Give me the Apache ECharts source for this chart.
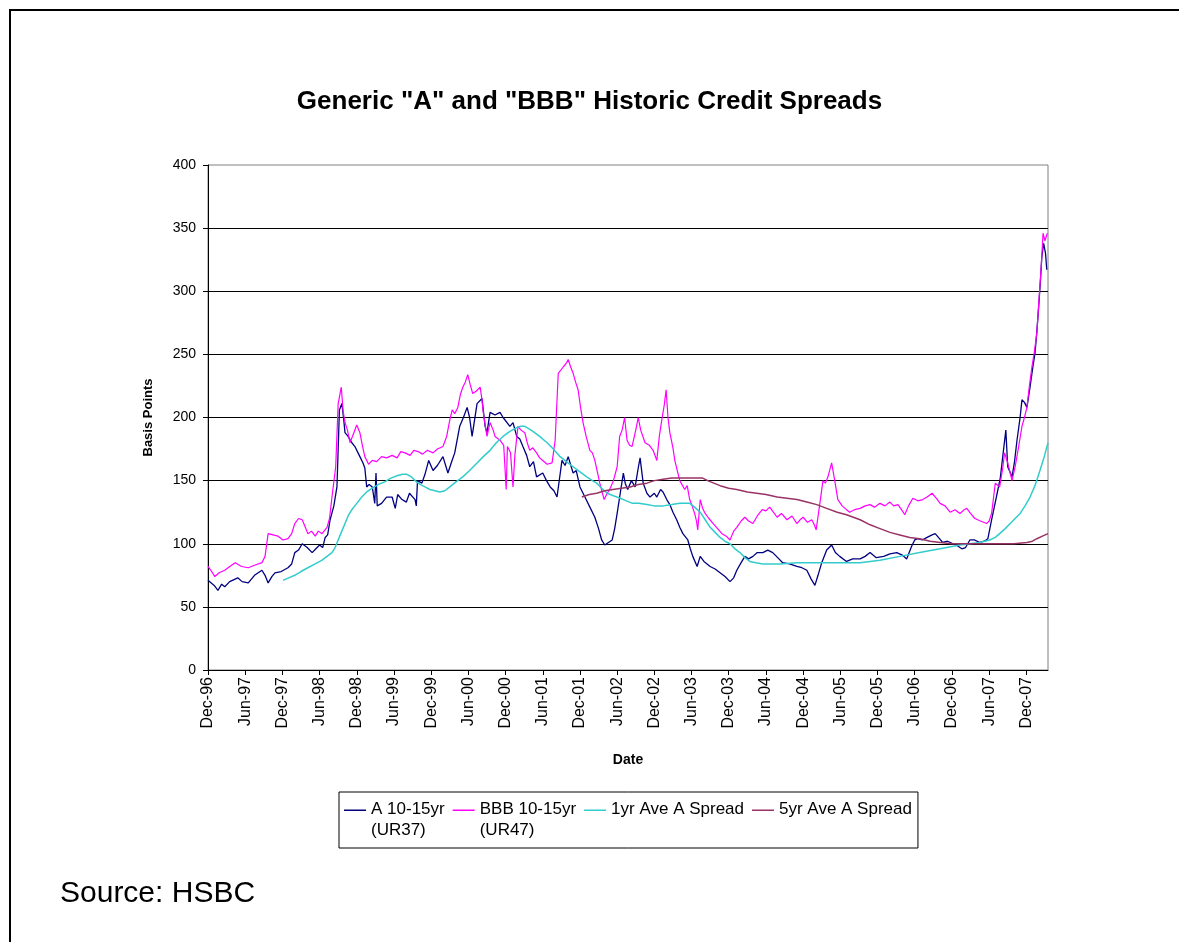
<!DOCTYPE html>
<html>
<head>
<meta charset="utf-8">
<script src="https://cdn.jsdelivr.net/npm/echarts@6/dist/echarts.min.js"></script>
<style>
  html, body { margin: 0; padding: 0; background: #fff; }
  #main { width: 1179px; height: 942px; }
</style>
</head>
<body>
<div id="main"></div>
<script>
// x values are months since Dec-96
const tickLabels = ['Dec-96', 'Jun-97', 'Dec-97', 'Jun-98', 'Dec-98', 'Jun-99', 'Dec-99', 'Jun-00',
  'Dec-00', 'Jun-01', 'Dec-01', 'Jun-02', 'Dec-02', 'Jun-03', 'Dec-03', 'Jun-04', 'Dec-04',
  'Jun-05', 'Dec-05', 'Jun-06', 'Dec-06', 'Jun-07', 'Dec-07'];

const seriesNames = ['A 10-15yr\n(UR37)', 'BBB 10-15yr\n(UR47)', '1yr Ave A Spread', '5yr Ave A Spread'];

const aMonths = [0, 1, 1.6, 2.2, 2.7, 3.5, 4.8, 5.5, 6.5, 7.5, 8.7, 9.2, 9.7, 10.3, 10.8, 11.8, 12.9, 13.5, 14, 14.6,
  15.2, 16, 16.8, 17.4, 18, 18.5, 18.9, 19.3, 19.7, 20.3, 20.8, 21.2, 21.6, 21.9, 22.1, 22.6, 23.2, 23.7, 24.2, 24.6,
  25, 25.3, 25.6, 26, 26.5, 26.9, 27.1, 27.3, 28, 28.8, 29.7, 30.2, 30.6, 31.3, 32, 32.5, 33.4, 33.6, 33.8, 34.5,
  35, 35.6, 36.3, 37, 37.9, 38.7, 39.3, 39.8, 40.6, 41.2, 41.8, 42.2, 42.6, 43.4, 44.2, 44.7, 45, 45.5, 46.3, 47.1,
  47.6, 48.7, 49.2, 49.8, 50.3, 50.8, 51.4, 51.9, 52.5, 53, 54, 54.6, 55.2, 55.8, 56.3, 57.1, 57.6, 58.1, 58.9, 59.4,
  60, 60.8, 61.6, 62.4, 63, 63.5, 64, 64.6, 65.2, 65.6, 66, 66.5, 67, 67.3, 67.7, 68.3, 68.9, 69.4, 69.7, 70.2,
  70.8, 71.3, 72, 72.4, 73, 73.4, 74, 74.5, 75, 75.6, 76.1, 76.6, 77.4, 77.8, 78.2, 78.9, 79.4, 80, 81, 81.8,
  82.6, 83.4, 84.2, 84.8, 85.3, 86, 86.6, 87.2, 87.9, 88.6, 89.5, 90.3, 91.1, 91.9, 92.7, 93.8, 95, 95.8, 96.6, 97.3,
  97.9, 98.4, 99, 99.8, 100.6, 101.2, 101.9, 103, 104, 105.2, 106, 106.8, 107.8, 109, 110, 111.1, 112, 112.7, 113.5, 114,
  114.5, 115.2, 116, 116.8, 117.3, 118, 118.5, 119.3, 120.2, 121, 121.6, 122.2, 122.9, 123.6, 124.5, 125.2, 125.8, 126.4, 127.3, 127.8,
  128.2, 128.7, 129, 129.7, 130.1, 130.5, 131, 131.3, 131.7, 132.1, 132.6, 133, 133.4, 133.7, 134, 134.3, 134.5, 134.8, 135.1, 135.3];
const aSpread = [71, 67, 63, 68, 66, 70, 73, 70, 69, 75, 79, 75, 69, 74, 77, 78, 81, 84, 93, 95,
  100, 97, 93, 96, 99, 97, 105, 107, 119, 130, 145, 206, 211, 198, 188, 185, 180, 177, 172, 168,
  164, 160, 145, 147, 145, 132, 156, 130, 132, 137, 137, 128, 139, 135, 133, 140, 135, 130, 150, 148,
  155, 166, 158, 162, 169, 156, 165, 172, 193, 200, 208, 200, 185, 211, 215, 193, 188, 204, 202, 204,
  200, 193, 196, 185, 183, 177, 170, 161, 165, 153, 156, 150, 145, 142, 137, 166, 162, 169, 156, 158,
  145, 137, 129, 121, 112, 103, 99, 101, 103, 112, 124, 140, 156, 148, 143, 150, 145, 160, 168, 148,
  140, 137, 140, 137, 143, 141, 135, 131, 125, 119, 113, 108, 103, 96, 90, 82, 90, 86, 82, 80,
  77, 74, 70, 73, 79, 85, 90, 88, 90, 93, 93, 95, 93, 89, 85, 84, 82, 81, 79, 72,
  67, 75, 85, 95, 99, 93, 90, 86, 88, 88, 90, 93, 89, 90, 92, 93, 91, 88, 98, 103,
  104, 103, 105, 107, 108, 104, 101, 102, 100, 98, 96, 97, 103, 103, 101, 102, 104, 119, 140, 152,
  169, 190, 161, 153, 165, 182, 200, 214, 212, 208, 224, 238, 251, 268, 288, 310, 327, 338, 330, 317];

const bbbMonths = [0, 0.6, 1.1, 1.8, 2.7, 3.5, 4.4, 5.4, 6.5, 7.5, 8.7, 9.2, 9.7, 10.5, 11.3, 12.1, 12.9, 13.5, 14, 14.6,
  15.2, 15.7, 16.1, 16.7, 17.3, 17.8, 18.4, 19.2, 19.6, 20, 20.6, 21, 21.5, 21.8, 22.1, 22.5, 22.9, 23.3, 24, 24.5,
  24.9, 25.3, 25.9, 26.5, 27.2, 28, 28.8, 29.7, 30.5, 31.1, 31.8, 32.6, 33.2, 33.9, 34.6, 35.4, 36.3, 37, 37.9, 38.5,
  39, 39.4, 39.8, 40.3, 40.7, 41.1, 41.5, 41.9, 42.3, 42.7, 43.3, 43.9, 44.2, 44.4, 45, 45.5, 46, 46.3, 47.1, 47.7,
  48.1, 48.3, 48.8, 49.2, 49.5, 50, 50.5, 51.1, 51.5, 51.9, 52.4, 53, 53.5, 54, 54.7, 55.5, 56, 56.5, 57.3, 57.8,
  58.1, 58.5, 58.9, 59.3, 59.7, 60.1, 60.5, 61, 61.6, 62, 62.4, 63.2, 63.9, 64.4, 64.8, 65.4, 66, 66.4, 66.8, 67.2,
  67.6, 68, 68.4, 69, 69.4, 69.8, 70.5, 71.2, 71.8, 72.4, 72.8, 73.2, 73.6, 73.9, 74.2, 74.5, 75, 75.3, 75.7, 76.1,
  76.9, 77.3, 77.7, 78.1, 78.5, 78.8, 79, 79.4, 79.8, 80.2, 80.8, 81.5, 82.2, 82.9, 83.6, 84.2, 84.8, 85.3, 86, 86.6,
  87.2, 87.9, 88.6, 89.4, 90, 90.6, 91.2, 91.8, 92.5, 93.4, 94.2, 95, 95.5, 96, 96.7, 97.4, 97.8, 98.1, 98.7, 99.2,
  99.6, 100, 100.6, 101.1, 101.6, 102.3, 103, 103.5, 104.3, 105.2, 106, 106.8, 107.5, 108.4, 109.2, 110, 110.6, 111.3, 112, 112.4,
  113, 113.7, 114.5, 115.3, 116, 116.8, 117.5, 118.1, 118.9, 119.7, 120.5, 121.3, 122, 122.4, 123, 123.7, 124.6, 125.6, 126, 126.4,
  127, 127.7, 128.2, 128.5, 129, 129.7, 130.2, 130.8, 131.3, 131.7, 132.1, 132.5, 132.9, 133.3, 133.7, 134, 134.4, 134.7, 135, 135.2, 135.4];
const bbbSpread = [82, 78, 74, 77, 79, 82, 85, 82, 81, 83, 85, 90, 108, 107, 106, 103, 104, 108, 116, 120,
  119, 113, 108, 110, 106, 110, 108, 113, 120, 137, 161, 211, 224, 205, 196, 190, 180, 185, 194, 188,
  178, 169, 163, 166, 165, 169, 168, 170, 168, 173, 172, 170, 174, 173, 171, 174, 172, 175, 177, 185,
  198, 206, 203, 208, 218, 224, 228, 234, 226, 219, 221, 224, 214, 204, 185, 196, 190, 185, 182, 178,
  143, 177, 172, 145, 170, 193, 190, 188, 180, 174, 176, 172, 168, 166, 163, 164, 182, 235, 240, 243,
  246, 240, 235, 228, 222, 208, 196, 185, 174, 172, 166, 148, 135, 140, 143, 150, 161, 185, 190, 200,
  182, 178, 177, 190, 200, 190, 180, 178, 174, 166, 185, 198, 210, 222, 200, 188, 176, 166, 158, 150,
  143, 146, 135, 130, 124, 118, 111, 135, 128, 124, 120, 116, 112, 108, 106, 103, 110, 113, 118, 121,
  118, 116, 122, 127, 126, 129, 125, 121, 124, 119, 122, 116, 119, 121, 117, 119, 115, 111, 132, 150,
  148, 153, 164, 150, 135, 130, 127, 125, 127, 128, 130, 131, 129, 132, 130, 133, 130, 131, 126, 123,
  130, 136, 134, 135, 137, 140, 136, 132, 130, 125, 127, 124, 127, 128, 124, 120, 118, 116, 118, 124,
  148, 145, 160, 172, 164, 150, 161, 178, 193, 200, 208, 225, 240, 252, 267, 290, 319, 346, 340, 343, 346];

const ave1Months = [12.1, 13, 14, 15, 16.1, 17.3, 18.4, 19.2, 20, 20.5, 21, 21.5, 22.1, 22.6, 23.2, 24, 24.8, 25.6, 26.5, 27.5,
  28.5, 29.5, 30.6, 31.4, 32.1, 32.8, 33.4, 34.2, 35, 35.8, 36.6, 37.4, 38.2, 39, 40, 41.1, 42.2, 43.4, 44.4, 45.5,
  46.5, 47.6, 48.7, 49.8, 50.5, 51.1, 51.8, 52.4, 53.5, 54.7, 55.7, 56.8, 57.8, 58.9, 60, 61.1, 62, 62.7, 63.5, 64.4,
  65.4, 66.5, 67.5, 68.5, 69.5, 70.8, 72, 73.4, 74.8, 76.1, 77, 77.7, 78.5, 79.4, 80.2, 81, 81.8, 82.6, 83.4, 84.2,
  85, 85.8, 86.6, 87.4, 88.4, 89.5, 92.3, 95, 97.6, 100.3, 103, 105.2, 108.4, 111.6, 114.8, 118.1, 121.3, 124.5, 126.1, 127,
  127.7, 128.6, 129.4, 130.2, 131, 131.8, 132.6, 133.4, 134.2, 134.9, 135.5];
const ave1Spread = [71, 73, 75, 78, 81, 84, 87, 90, 93, 97, 103, 109, 116, 122, 127, 132, 137, 141, 144, 147,
  149, 152, 154, 155, 155, 153, 150, 147, 145, 143, 142, 141, 142, 145, 149, 153, 158, 164, 169, 174,
  180, 185, 189, 192, 193, 193, 191, 189, 185, 180, 175, 169, 165, 161, 157, 153, 150, 148, 144, 140,
  138, 136, 134, 132, 132, 131, 130, 130, 131, 132, 132, 132, 129, 125, 119, 113, 109, 105, 102, 100,
  96, 93, 89, 86, 85, 84, 84, 85, 85, 85, 85, 85, 87, 90, 93, 96, 99, 101, 103, 105,
  108, 112, 116, 120, 124, 130, 137, 146, 158, 169, 180];

const ave5Months = [60.3, 61.5, 62.7, 64, 65.3, 66.7, 68.1, 69.4, 70.8, 72, 73.4, 74.8, 76.1, 78, 79.8, 80.6, 81.6, 82.6, 84, 85.3,
  87, 88.5, 90, 91.8, 93.4, 95, 96.6, 98.2, 99.8, 101.5, 103, 105.2, 106.8, 108.4, 110, 111.6, 113.2, 114.8, 116.5, 118.1,
  120, 122, 124, 126, 128, 130, 132.1, 133, 133.7, 134.6, 135.5];
const ave5Spread = [137, 139, 140, 142, 143, 144, 145, 147, 148, 150, 151, 152, 152, 152, 152, 150, 148, 146, 144, 143,
  141, 140, 139, 137, 136, 135, 133, 131, 128, 125, 123, 119, 115, 112, 109, 107, 105, 104, 102, 101,
  100, 100, 100, 100, 100, 100, 101, 102, 104, 106, 108];

const zip = (xs, ys) => xs.map((x, i) => [x, ys[i]]);

const font = '"Liberation Sans", Arial, sans-serif';
// legend key drawn on the first text line of each entry
const keyTop = 'path://M0,0 L22,0 L22,1.5 L0,1.5 Z M0,21';

const chart = echarts.init(document.getElementById('main'));

const lineSeries = (name, xs, ys, color, width) => ({
  name: name,
  type: 'line',
  data: zip(xs, ys),
  showSymbol: false,
  symbol: 'none',
  lineStyle: { color: color, width: width },
  itemStyle: { color: color },
  emphasis: { disabled: true },
  animation: false
});

const option = {
  backgroundColor: '#fff',
  animation: false,
  title: {
    text: 'Generic "A" and "BBB" Historic Credit Spreads',
    left: 'center',
    top: 84,
    textStyle: { fontFamily: font, fontSize: 26, fontWeight: 'bold', color: '#000' }
  },
  grid: {
    left: 208, right: 131, top: 165, bottom: 272,
    show: true, borderColor: '#808080', borderWidth: 1, backgroundColor: 'transparent'
  },
  legend: {
    left: 339,
    top: 792,
    orient: 'horizontal',
    itemWidth: 22,
    itemHeight: 21,
    itemGap: 8,
    padding: [7, 6, 7, 5],
    borderColor: '#000',
    borderWidth: 1,
    icon: keyTop,
    // single-line entries get an empty second line so every key sits on the first line
    formatter: name => (name.indexOf('\n') < 0 ? name + '\n ' : name),
    textStyle: { fontFamily: font, fontSize: 17, color: '#000', lineHeight: 21 },
    data: seriesNames
  },
  xAxis: {
    type: 'value',
    min: 0,
    max: 135.5,
    interval: 6,
    name: 'Date',
    nameLocation: 'middle',
    nameGap: 83,
    nameTextStyle: { fontFamily: font, fontSize: 14, fontWeight: 'bold', color: '#000' },
    axisLine: { show: true, lineStyle: { color: '#000', width: 1 } },
    axisTick: { show: true, length: 5, lineStyle: { color: '#000' } },
    axisLabel: {
      rotate: 90,
      fontFamily: font,
      fontSize: 16,
      color: '#000',
      margin: 7,
      showMaxLabel: false,
      formatter: v => (v % 6 === 0 ? tickLabels[v / 6] : '')
    },
    splitLine: { show: false }
  },
  yAxis: {
    type: 'value',
    min: 0,
    max: 400,
    interval: 50,
    name: 'Basis Points',
    nameLocation: 'middle',
    nameGap: 53,
    nameTextStyle: { fontFamily: font, fontSize: 13, fontWeight: 'bold', color: '#000' },
    axisLine: { show: true, lineStyle: { color: '#000', width: 1 } },
    axisTick: { show: true, length: 5, lineStyle: { color: '#000' } },
    axisLabel: { fontFamily: font, fontSize: 14, color: '#000', margin: 12 },
    splitLine: { show: true, showMaxLine: false, lineStyle: { color: '#000', width: 1 } }
  },
  graphic: [
    {
      type: 'rect',
      shape: { x: 10, y: 10, width: 1200, height: 1000 },
      style: { fill: 'none', stroke: '#000', lineWidth: 2 },
      silent: true
    },
    {
      type: 'text',
      left: 60,
      top: 879,
      style: { text: 'Source: HSBC', font: '30px ' + font, fill: '#000' },
      silent: true
    }
  ],
  series: [
    lineSeries(seriesNames[0], aMonths, aSpread, '#000080', 1.3),
    lineSeries(seriesNames[1], bbbMonths, bbbSpread, '#ff00ff', 1.2),
    lineSeries(seriesNames[2], ave1Months, ave1Spread, '#33cccc', 1.5),
    lineSeries(seriesNames[3], ave5Months, ave5Spread, '#993366', 1.5)
  ]
};

chart.setOption(option);
</script>
</body>
</html>
